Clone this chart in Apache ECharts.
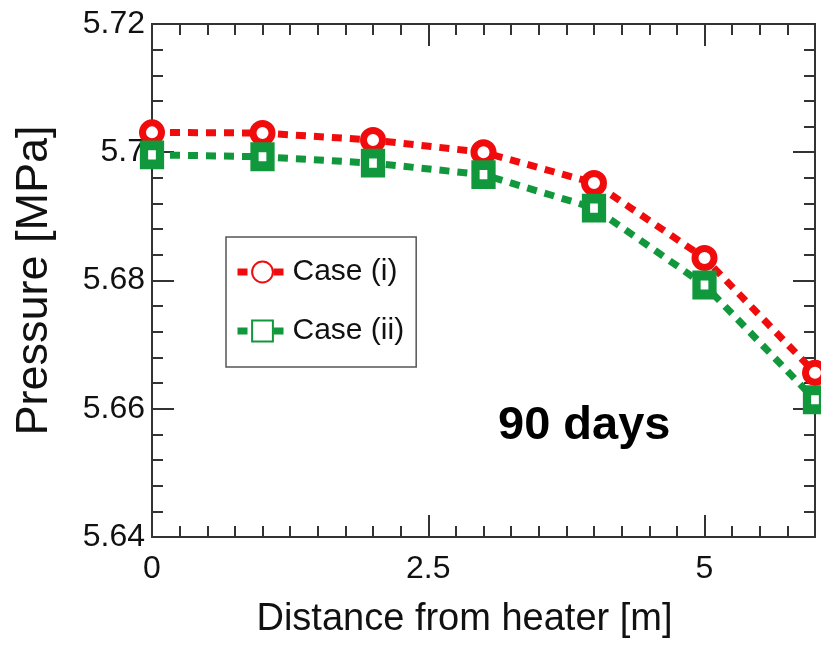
<!DOCTYPE html>
<html>
<head>
<meta charset="utf-8">
<script src="https://cdn.jsdelivr.net/npm/echarts@6/dist/echarts.min.js"></script>
<style>
  body { margin: 0; background: #fff; }
  #main { width: 821px; height: 645px; }
</style>
</head>
<body>
<div id="main"></div>
<script>
var distance = [0, 1, 2, 3, 4, 5, 6]
var caseOne = [5.7031, 5.7030, 5.7019, 5.7000, 5.6952, 5.6835, 5.6656]
var caseTwo = [5.6996, 5.6993, 5.6983, 5.6965, 5.6913, 5.6793, 5.6614]
var seriesNames = ['Case (i)', 'Case (ii)']
var noteText = '90 days'

var axisFont = "'Liberation Sans', Arial, sans-serif"
var axisColor = '#333'
var red = '#f00c0c'
var green = '#11983c'

function pairs(xs, ys) {
  var out = []
  for (let i = 0; i < xs.length; i++) {
    out.push([xs[i], ys[i]])
  }
  return out
}

// ticks point inward on all four sides, long ones at labels, short ones between
function xAxisFrame(pos, step, len, labels) {
  return {
    type: 'value', position: pos, min: 0, max: 6, interval: step,
    axisLine: { show: true, onZero: false, lineStyle: { color: axisColor, width: 2 } },
    axisTick: { show: true, inside: true, length: len, lineStyle: { color: axisColor, width: 2 } },
    axisLabel: { show: labels, showMaxLabel: false, margin: 16, color: '#111', fontSize: 32, fontFamily: axisFont },
    splitLine: { show: false }
  }
}

function yAxisFrame(pos, labels) {
  return {
    type: 'value', position: pos, min: 5.64, max: 5.72, interval: 0.02,
    axisLine: { show: true, onZero: false, lineStyle: { color: axisColor, width: 2 } },
    axisTick: { show: true, inside: true, length: 22, lineStyle: { color: axisColor, width: 2 } },
    minorTick: { show: true, splitNumber: 5, length: 11, lineStyle: { color: axisColor, width: 2 } },
    axisLabel: { show: labels, margin: 7, color: '#111', fontSize: 32, fontFamily: axisFont },
    splitLine: { show: false }
  }
}

var xMain = xAxisFrame('bottom', 2.5, 22, true)
xMain.name = 'Distance from heater [m]'
xMain.nameLocation = 'middle'
xMain.nameGap = 64
xMain.nameTextStyle = { color: '#111', fontSize: 38, fontFamily: axisFont, padding: [0, 38, 0, 0] }

var yMain = yAxisFrame('left', true)
yMain.name = 'Pressure [MPa]'
yMain.nameLocation = 'middle'
yMain.nameGap = 95
yMain.nameTextStyle = { color: '#111', fontSize: 45, fontFamily: axisFont }

var chart = echarts.init(document.getElementById('main'))
chart.setOption({
  animation: false,
  backgroundColor: '#fff',
  grid: { left: 152, right: 6, top: 24, bottom: 108 },
  xAxis: [
    xMain,
    xAxisFrame('bottom', 0.25, 11, false),
    xAxisFrame('top', 2.5, 22, false),
    xAxisFrame('top', 0.25, 11, false)
  ],
  yAxis: [yMain, yAxisFrame('right', false)],
  legend: {
    orient: 'vertical',
    left: 226,
    top: 237,
    padding: [20, 12, 21, 8],
    itemGap: 29,
    itemWidth: 50,
    itemHeight: 26,
    borderColor: '#555',
    borderWidth: 1.5,
    backgroundColor: '#fff',
    lineStyle: { width: 7 },
    textStyle: { color: '#111', fontSize: 30, fontFamily: axisFont },
    data: seriesNames
  },
  graphic: [{
    type: 'text',
    left: 498,
    top: 403,
    style: { text: noteText, fill: '#000', font: "bold 47px 'Liberation Sans', Arial, sans-serif" }
  }],
  series: [
    {
      name: seriesNames[0],
      type: 'line',
      data: pairs(distance, caseOne),
      symbol: 'circle',
      symbolSize: 19,
      clip: false,
      lineStyle: { color: red, width: 7, type: [10, 8] },
      itemStyle: { color: '#fff', borderColor: red, borderWidth: 7 }
    },
    {
      name: seriesNames[1],
      type: 'line',
      data: pairs(distance, caseTwo),
      symbol: 'rect',
      symbolSize: [16, 19],
      clip: false,
      lineStyle: { color: green, width: 7, type: [10, 8] },
      itemStyle: { color: '#fff', borderColor: green, borderWidth: 9 }
    }
  ]
})
</script>
</body>
</html>
